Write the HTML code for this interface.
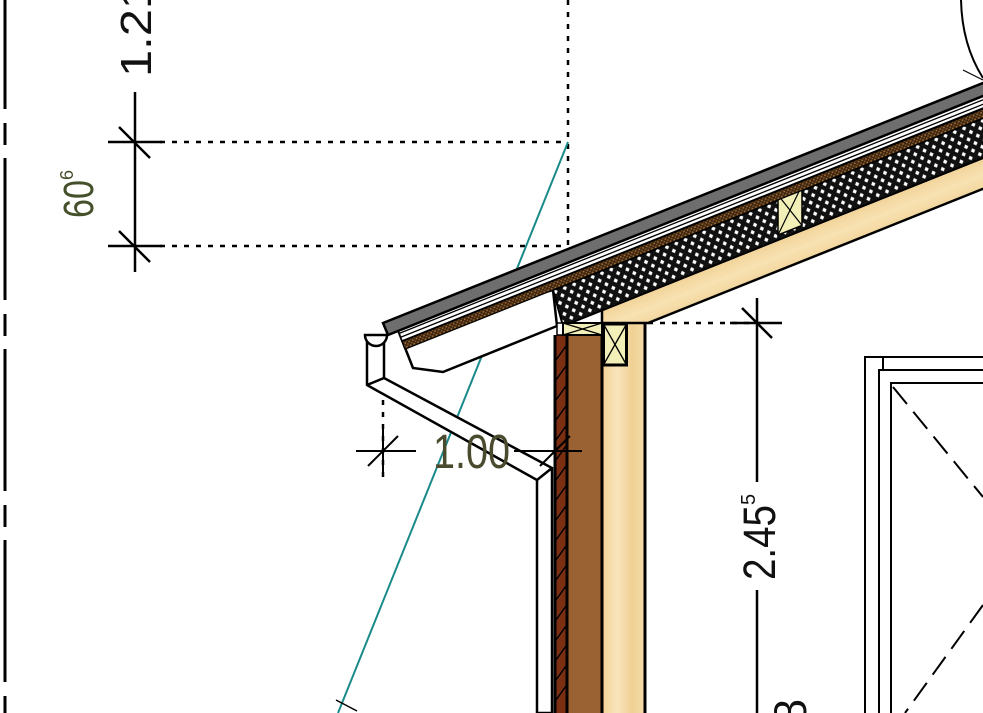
<!DOCTYPE html>
<html><head><meta charset="utf-8"><style>
html,body{margin:0;padding:0;background:#fff;}
svg{display:block;}
text{font-family:"Liberation Sans",sans-serif;}
</style></head><body>
<svg width="983" height="713" viewBox="0 0 983 713" xmlns="http://www.w3.org/2000/svg">
<defs>
<pattern id="ins" width="10" height="12" patternUnits="userSpaceOnUse" patternTransform="rotate(-21.8)">
<rect width="10" height="12" fill="#111"/>
<path d="M2.5 0.6 L4.8 3.2 L2.5 5.6 L0.2 3.2Z" fill="#fff"/>
<path d="M7.5 6.6 L9.8 9.2 L7.5 11.6 L5.2 9.2Z" fill="#fff"/>
</pattern>
<pattern id="dots" width="4" height="4" patternUnits="userSpaceOnUse" patternTransform="rotate(-21.8)">
<rect width="4" height="4" fill="#3a2410"/>
<circle cx="1" cy="1" r="0.9" fill="#b0773a"/>
<circle cx="3" cy="3" r="0.9" fill="#8a5a2a"/>
</pattern>
<linearGradient id="woodR" gradientUnits="userSpaceOnUse" x1="0" y1="0" x2="14" y2="35" spreadMethod="reflect">
<stop offset="0" stop-color="#f8e2b2"/><stop offset="0.5" stop-color="#f0d095"/><stop offset="1" stop-color="#fae8c0"/>
</linearGradient>
<linearGradient id="woodC" gradientUnits="userSpaceOnUse" x1="602" y1="0" x2="645" y2="0">
<stop offset="0" stop-color="#f2d295"/><stop offset="0.35" stop-color="#f9e5bd"/><stop offset="0.7" stop-color="#efd094"/><stop offset="1" stop-color="#f6dca8"/>
</linearGradient>
</defs>

<line x1="5" y1="0" x2="5" y2="713" stroke="#000" stroke-width="3" stroke-dasharray="109 14 22 13 142 14 22 13 142 14 22 13 142 14 22 13" />

<g stroke="#000" stroke-width="2.5" stroke-dasharray="5 7" fill="none">
<line x1="568" y1="0" x2="568" y2="330"/>
<line x1="160" y1="142" x2="568" y2="142"/>
<line x1="160" y1="246" x2="568" y2="246"/>
<line x1="648" y1="323" x2="760" y2="323"/>
<line x1="383" y1="340" x2="383" y2="478"/>
</g>

<g stroke="#000" stroke-width="2.5" fill="none">
<line x1="135" y1="92" x2="135" y2="272"/>
<line x1="108" y1="142" x2="162" y2="142"/>
<line x1="108" y1="246" x2="162" y2="246"/>
<line x1="119" y1="127" x2="150" y2="158"/>
<line x1="119" y1="231" x2="150" y2="262"/>
</g>
<text transform="translate(151,77) rotate(-90)" font-size="44" fill="#111" textLength="95" lengthAdjust="spacingAndGlyphs">1.21</text>
<text transform="translate(93,218) rotate(-90)" font-size="43" fill="#44502a" textLength="38" lengthAdjust="spacingAndGlyphs">60</text>
<text transform="translate(73,180) rotate(-90)" font-size="18" fill="#44502a">6</text>

<line x1="568" y1="142" x2="338" y2="713" stroke="#1a8a8a" stroke-width="2"/>
<line x1="336" y1="700" x2="357" y2="711" stroke="#000" stroke-width="1.5"/>

<rect x="555" y="335" width="12" height="378" fill="#7a2e12"/>
<rect x="567" y="335" width="35" height="378" fill="#9a6232"/>
<g stroke="#000" stroke-width="1.5">
<line x1="556" y1="360" x2="566" y2="346"/><line x1="556" y1="380" x2="566" y2="366"/><line x1="556" y1="400" x2="566" y2="386"/>
<line x1="556" y1="420" x2="566" y2="406"/><line x1="556" y1="440" x2="566" y2="426"/><line x1="556" y1="460" x2="566" y2="446"/>
<line x1="556" y1="480" x2="566" y2="466"/><line x1="556" y1="500" x2="566" y2="486"/><line x1="556" y1="520" x2="566" y2="506"/>
<line x1="556" y1="540" x2="566" y2="526"/><line x1="556" y1="560" x2="566" y2="546"/><line x1="556" y1="580" x2="566" y2="566"/>
<line x1="556" y1="600" x2="566" y2="586"/><line x1="556" y1="620" x2="566" y2="606"/><line x1="556" y1="640" x2="566" y2="626"/>
<line x1="556" y1="660" x2="566" y2="646"/><line x1="556" y1="680" x2="566" y2="666"/><line x1="556" y1="700" x2="566" y2="686"/>
</g>
<rect x="602" y="323" width="43" height="390" fill="url(#woodC)"/>
<polygon points="602,310 1000,151 1000,182 648,323 602,323" fill="url(#woodR)" stroke="#000" stroke-width="2.5"/>
<g stroke="#000" stroke-width="3" fill="none">
<line x1="555" y1="335" x2="555" y2="713"/>
<line x1="567" y1="335" x2="567" y2="713"/>
<line x1="602" y1="323" x2="602" y2="713"/>
<line x1="645" y1="323" x2="645" y2="713"/>
</g>

<polygon points="398,330 413,368 443,372 557,326 553,290 398,330" fill="#fff" stroke="#000" stroke-width="2.5"/>
<polygon points="553,290 1000,111.2 1000,151.2 563,326" fill="url(#ins)" stroke="#000" stroke-width="2"/>
<polygon points="778,195 802,185.4 802,225.4 778,235" fill="#f2f0b8" stroke="#000" stroke-width="1.5"/>
<line x1="778" y1="195" x2="802" y2="225.4" stroke="#000" stroke-width="1.2"/>
<line x1="802" y1="185.4" x2="778" y2="235" stroke="#000" stroke-width="1.2"/>
<polygon points="402,341.4 1000,102.2 1000,111.2 405,349.2" fill="url(#dots)" stroke="#000" stroke-width="1.2"/>
<polygon points="398,330 1000,89.2 1000,101.2 402,341" fill="#fff" stroke="#000" stroke-width="1.5"/>
<line x1="399" y1="333.5" x2="1000" y2="93" stroke="#000" stroke-width="1.3"/>
<line x1="400" y1="337.5" x2="1000" y2="97.5" stroke="#000" stroke-width="1.3"/>
<polygon points="383,323 1000,76.2 1000,89.2 388,335" fill="#6e6e6e" stroke="#000" stroke-width="2.5"/>

<rect x="557" y="323" width="6" height="12" fill="#fff" stroke="#000" stroke-width="1.5"/>
<rect x="563" y="323" width="39" height="12" fill="#f2f0b8" stroke="#000" stroke-width="2"/>
<line x1="563" y1="323" x2="602" y2="335" stroke="#000" stroke-width="1.3"/>
<line x1="602" y1="323" x2="563" y2="335" stroke="#000" stroke-width="1.3"/>
<rect x="603.5" y="324" width="23" height="41" fill="#f2f0b8" stroke="#000" stroke-width="3"/>
<line x1="604" y1="325" x2="626" y2="364" stroke="#000" stroke-width="1.3"/>
<line x1="626" y1="325" x2="604" y2="364" stroke="#000" stroke-width="1.3"/>

<g stroke="#000" stroke-width="2.5" fill="#fff">
<polygon points="367,340 384,340 384,378 552,468 552,713 537,713 537,480 367,385" />
<path d="M365 335 A11 11 0 0 0 387 335 Z"/>
</g>
<g stroke="#000" stroke-width="2.5" fill="none">
<line x1="367" y1="385" x2="384" y2="378"/>
<line x1="537" y1="480" x2="552" y2="468"/>
</g>

<g stroke="#000" stroke-width="2" fill="none">
<line x1="356" y1="451" x2="416" y2="451"/>
<line x1="514" y1="451" x2="582" y2="451"/>
<line x1="383" y1="425" x2="383" y2="477"/>
<line x1="368" y1="466" x2="398" y2="436"/>
<line x1="555" y1="436" x2="555" y2="466"/>
<line x1="540" y1="466" x2="570" y2="436"/>
</g>
<text x="433" y="468" font-size="48" fill="#4a4a2e" textLength="77" lengthAdjust="spacingAndGlyphs">1.00</text>

<g stroke="#000" stroke-width="2.5" fill="none">
<line x1="757" y1="298" x2="757" y2="482"/>
<line x1="757" y1="590" x2="757" y2="713"/>
<line x1="730" y1="323" x2="782" y2="323"/>
<line x1="742" y1="308" x2="772" y2="338"/>
</g>
<text transform="translate(775,580) rotate(-90)" font-size="45" fill="#111" textLength="75" lengthAdjust="spacingAndGlyphs">2.45</text>
<text transform="translate(755,505) rotate(-90)" font-size="20" fill="#111">5</text>
<text transform="translate(806,724) rotate(-90)" font-size="45" fill="#111">8</text>

<g stroke="#000" stroke-width="2" fill="none">
<polyline points="865,713 865,357 983,357"/>
<line x1="883" y1="357" x2="883" y2="370"/>
<polyline points="879,713 879,370 983,370"/>
<polyline points="891,713 891,383 983,383"/>
<line x1="893" y1="387" x2="983" y2="497" stroke-dasharray="22 10"/>
<line x1="983" y1="605" x2="905" y2="713" stroke-dasharray="22 10"/>
</g>

<path d="M961 0 Q962 45 983 78" stroke="#000" stroke-width="2" fill="none"/>
<line x1="963" y1="70" x2="983" y2="80" stroke="#000" stroke-width="1.2"/>
</svg>
</body></html>
